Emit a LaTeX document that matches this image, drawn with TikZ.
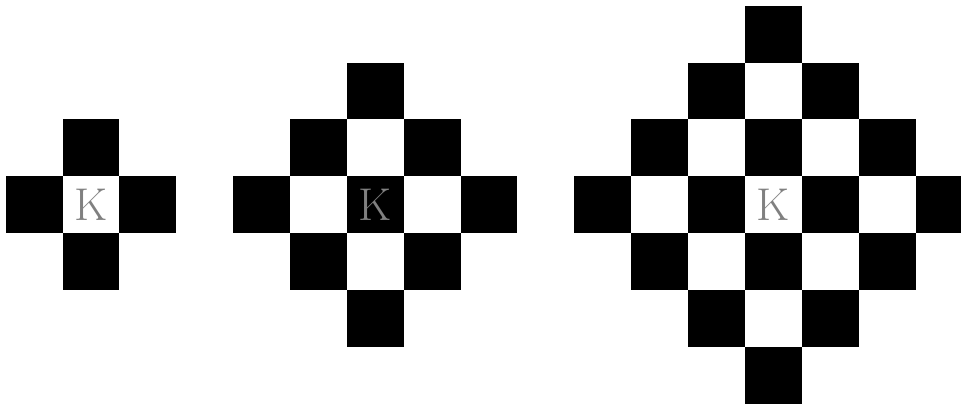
\documentclass[tikz,border=0pt]{standalone}
\usetikzlibrary{positioning}
\begin{document}
\begin{tikzpicture}[
    x=1cm, y=1cm,
    cell/.style={fill=black, minimum size=1cm, inner sep=0pt, outer sep=0pt},
    king/.style={text=gray, font=\fontsize{23}{28}\selectfont, inner sep=0pt},
  ]
  \clip (0,-3.523) rectangle (16.9,3.6);

  % one diamond of radius \n round each king
  \foreach \cx/\n in {1.6/1, 6.6/2, 13.6/3} {
    \foreach \i [count=\a] in {-\n,...,\n} {
      \foreach \j [count=\b] in {-\n,...,\n} {
        \pgfmathtruncatemacro{\d}{abs(\i)+abs(\j)}
        \pgfmathtruncatemacro{\k}{(\d<=\n) && (mod(\n-\d,2)==0)}
        \ifnum\k=1
          \node[cell] (sq\n\a\b) at (\cx+\i,\j) {};
        \fi
      }
    }
    \node[king] (k\n) at (\cx,0) {K};
  }
\end{tikzpicture}
\end{document}
